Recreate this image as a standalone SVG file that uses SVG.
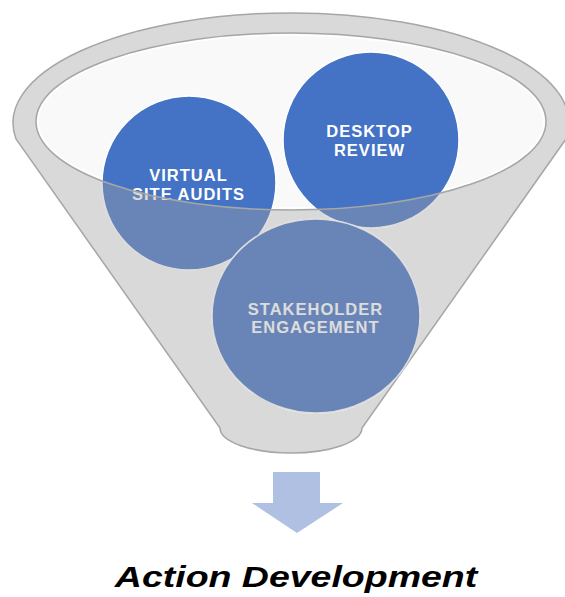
<svg xmlns="http://www.w3.org/2000/svg" width="565" height="597" viewBox="0 0 565 597">
<style>
.c{fill:#4472C4;stroke:#FFFFFF;stroke-width:1.5}
.ov{fill:#A6A6A6;fill-opacity:0.39}
.t{font-family:"Liberation Sans",Arial,sans-serif;font-weight:bold;font-size:16.5px;letter-spacing:1px;fill:#FFFFFF;text-anchor:middle}
</style>
<defs>
<clipPath id="front">
<path clip-rule="evenodd" d="M16,139 A278,110 0 1 1 566,139 L362,428 A71,25 0 0 1 220,428 Z M36,121.5 A255,88.5 0 1 0 546,121.5 A255,88.5 0 1 0 36,121.5 Z"/>
</clipPath>
</defs>
<g id="funnel">
<path d="M16,139 A278,110 0 1 1 566,139 L362,428 A71,25 0 0 1 220,428 Z" fill="#D9D9D9" stroke="#A6A6A6" stroke-width="1.5"/>
<ellipse cx="291" cy="121.5" rx="255" ry="88.5" fill="#F9F9F9"/>
<ellipse cx="291" cy="121.5" rx="253" ry="86.5" fill="none" stroke="#FFFFFF" stroke-width="1.5"/>
</g>
<g id="virtual-site-audits">
<circle class="c" cx="189" cy="183" r="87"/>
<text class="t"><tspan x="188.5" y="181.3">VIRTUAL</tspan><tspan x="188.5" y="199.8">SITE AUDITS</tspan></text>
<circle class="ov" cx="189" cy="183" r="87.75" clip-path="url(#front)"/>
</g>
<g id="desktop-review">
<circle class="c" cx="371" cy="140" r="88"/>
<text class="t"><tspan x="369.5" y="137.4">DESKTOP</tspan><tspan x="369.5" y="155.9">REVIEW</tspan></text>
<circle class="ov" cx="371" cy="140" r="88.75" clip-path="url(#front)"/>
</g>
<g id="stakeholder-engagement">
<ellipse class="c" cx="316" cy="316" rx="104" ry="97"/>
<text class="t"><tspan x="315.5" y="314.6">STAKEHOLDER</tspan><tspan x="315.5" y="333.1">ENGAGEMENT</tspan></text>
<ellipse class="ov" cx="316" cy="316" rx="104.75" ry="97.75" clip-path="url(#front)"/>
</g>
<g id="funnel-rim">
<ellipse cx="291" cy="121.5" rx="255" ry="88.5" fill="none" stroke="#A6A6A6" stroke-width="1.5"/>
</g>
<g id="connectors">
<polygon points="273,472 320,472 320,503 343,503 297,533 252,503 273,503" fill="#B0C0E2"/>
</g>
<g id="action-development">
<text transform="translate(296,586.7) scale(1.25,1)" x="0" y="0" font-family="'Liberation Sans',Arial,sans-serif" font-weight="bold" font-style="italic" font-size="30" text-anchor="middle" fill="#000000">Action Development</text>
</g>
</svg>
